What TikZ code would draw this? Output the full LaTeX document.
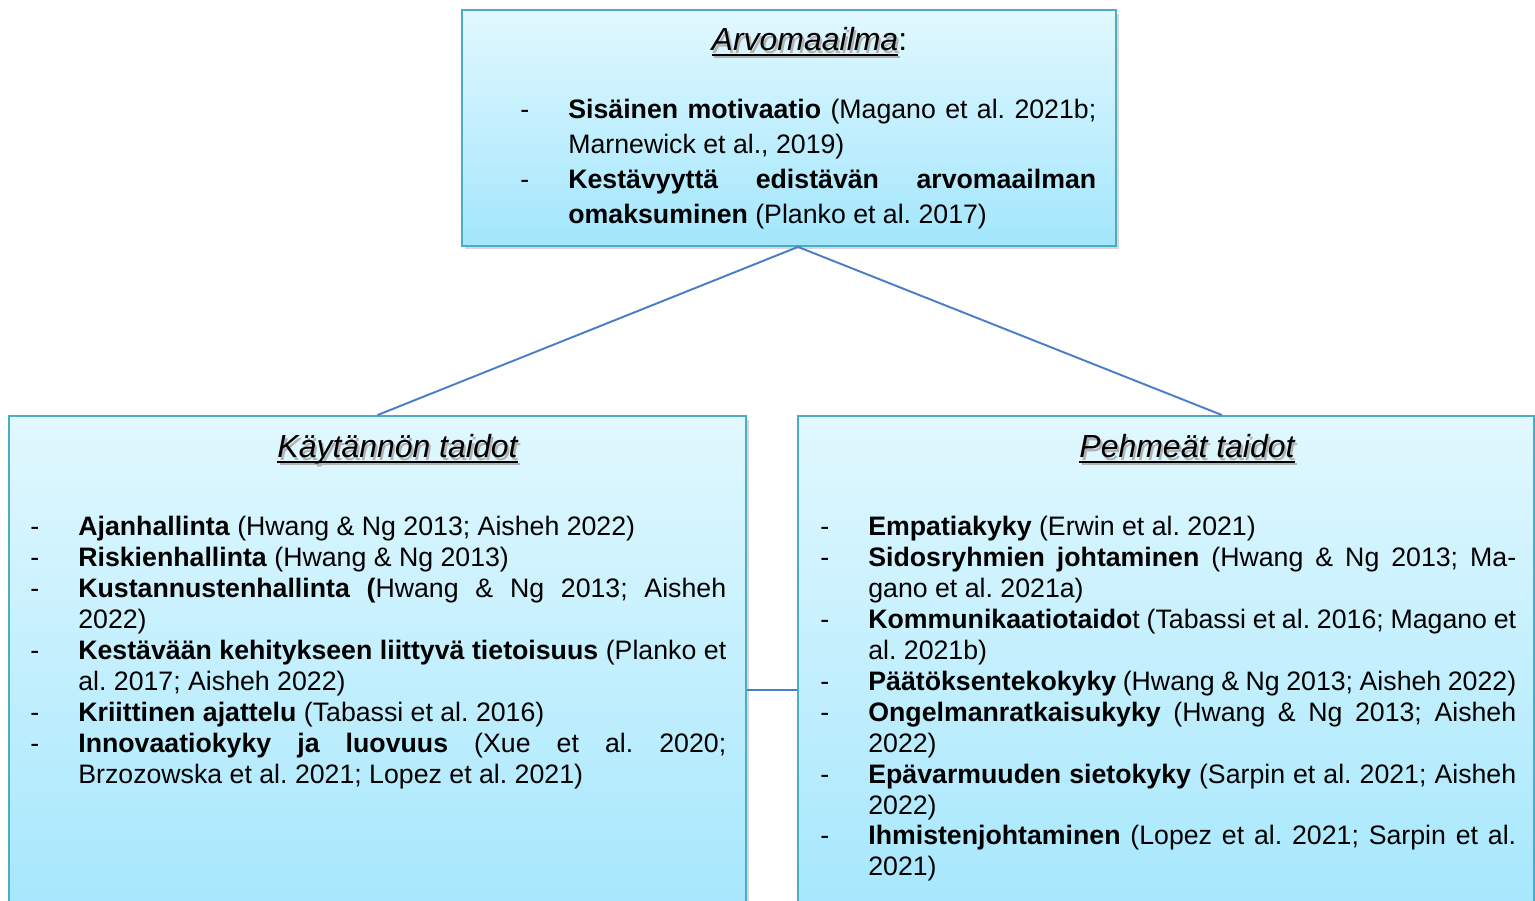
\documentclass[tikz,border=0pt]{standalone}
\usepackage{fontspec}
\setmainfont{Liberation Sans}
\usetikzlibrary{shadows,calc}

\definecolor{boxtop}{HTML}{E1F8FE}
\definecolor{boxbot}{HTML}{A3E6FD}
\definecolor{boxline}{HTML}{4BACC6}
\definecolor{linkline}{HTML}{4A7EC6}

\newlength{\dashgap}\setlength{\dashgap}{0.96cm}
% underlined italic title with a soft text shadow
\newcommand{\ulit}[1]{\setbox0\hbox{\itshape #1}\rlap{\rule[-2.6pt]{\wd0}{0.9pt}}\box0}
\newcommand{\ttl}[1]{\leavevmode\rlap{\kern1.2pt\raisebox{-1.2pt}{\color{black!30}\ulit{#1}}}\ulit{#1}}
% one list item: dash, bold head, references
\newcommand{\itm}[2]{\par\noindent\hangindent=\dashgap\hangafter=1\makebox[\dashgap][l]{-}\textbf{#1}#2}

\tikzset{
  box/.style={draw=boxline, line width=1.1pt, top color=boxtop, bottom color=boxbot,
    drop shadow={shadow xshift=0.6mm, shadow yshift=-0.7mm, opacity=0.3}},
  ttlnode/.style={anchor=base, inner sep=0pt, font=\fontsize{18.2pt}{22pt}\selectfont},
  list/.style={anchor=north west, inner sep=0pt, text width=13.92cm, align=justify,
    font=\fontsize{15.2pt}{17.6pt}\selectfont\frenchspacing},
  link/.style={draw=linkline, line width=1.1pt}
}

\begin{document}
\begin{tikzpicture}[x=0.02cm, y=-0.02cm]
    \clip (0,0) rectangle (1535,901);
    \fill[white] (0,0) rectangle (1535,901);

    % boxes
    \node[box, minimum width=13.08cm, minimum height=4.72cm] (arvo) at (789,128) {};
    \node[box, minimum width=14.74cm, minimum height=10.4cm] (kayt) at (377.5,676) {};
    \node[box, minimum width=14.72cm, minimum height=10.4cm] (pehm) at (1166,676) {};

    % connectors
    \draw[link] ($(arvo.south)+(9,0)$) -- (kayt.north);
    \draw[link] ($(arvo.south)+(9,0)$) -- ($(pehm.north)+(56,0)$);
    \draw[link] (kayt.east |- 0,690) -- (pehm.west |- 0,690);

    % titles
    \node[ttlnode] (arvottl) at (805,51) {\ttl{Arvomaailma}\rlap{:}};
    \node[ttlnode] (kaytttl) at (397.5,458) {\ttl{Käytännön taidot}};
    \node[ttlnode] (pehmttl) at (1187,458) {\ttl{Pehmeät taidot}};

    % lists
    \node[list, text width=11.52cm, font=\fontsize{15.2pt}{19.9pt}\selectfont\frenchspacing] (arvolist) at (520,83.5) {%
      \itm{Sisäinen motivaatio}{ (Magano et al. 2021b;\linebreak Marnewick et al., 2019)}
      \itm{Kestävyyttä edistävän arvomaailman\linebreak omaksuminen}{ (Planko et al. 2017)}\par};
    \node[list] (kaytlist) at (30,504.5) {%
      \itm{Ajanhallinta}{ (Hwang \& Ng 2013; Aisheh 2022)}
      \itm{Riskienhallinta}{ (Hwang \& Ng 2013)}
      \itm{Kustannustenhallinta (}{Hwang \& Ng 2013; Aisheh\linebreak 2022)}
      \itm{Kestävään kehitykseen liittyvä tietoisuus}{ (Planko et\linebreak al. 2017; Aisheh 2022)}
      \itm{Kriittinen ajattelu}{ (Tabassi et al. 2016)}
      \itm{Innovaatiokyky ja luovuus}{ (Xue et al. 2020;\linebreak Brzozowska et al. 2021; Lopez et al. 2021)}\par};
    \node[list] (pehmlist) at (820,504.5) {%
      \itm{Empatiakyky}{ (Erwin et al. 2021)}
      \itm{Sidosryhmien johtaminen}{ (Hwang \& Ng 2013; Ma-\linebreak gano et al. 2021a)}
      \itm{Kommunikaatiotaido}{t (Tabassi et al. 2016; Magano et\linebreak al. 2021b)}
      \itm{Päätöksentekokyky}{ (Hwang \& Ng 2013; Aisheh 2022)}
      \itm{Ongelmanratkaisukyky}{ (Hwang \& Ng 2013; Aisheh\linebreak 2022)}
      \itm{Epävarmuuden sietokyky}{ (Sarpin et al. 2021; Aisheh\linebreak 2022)}
      \itm{Ihmistenjohtaminen}{ (Lopez et al. 2021; Sarpin et al.\linebreak 2021)}\par};
\end{tikzpicture}
\end{document}
